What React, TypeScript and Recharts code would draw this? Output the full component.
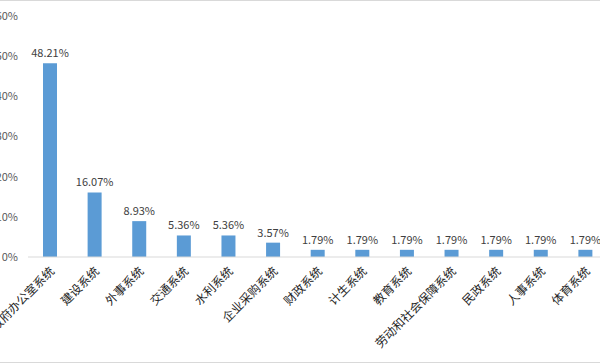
import React from 'react';
import { BarChart, Bar, XAxis, YAxis, LabelList } from 'recharts';

const categories = ['政府办公室系统', '建设系统', '外事系统', '交通系统', '水利系统', '企业采购系统', '财政系统', '计生系统', '教育系统', '劳动和社会保障系统', '民政系统', '人事系统', '体育系统'];
const shares = [48.21, 16.07, 8.93, 5.36, 5.36, 3.57, 1.79, 1.79, 1.79, 1.79, 1.79, 1.79, 1.79];
const yTicks = [0, 10, 20, 30, 40, 50, 60];

const data = categories.map((name, i) => ({ name, value: shares[i] }));

const FONT = '"Noto Sans CJK SC", "Noto Sans", sans-serif';

const XTick = (props: any) => {
  const { x, y, payload } = props;
  const tx = x + 5;
  const ty = y + 15;
  return (
    <text
      x={tx}
      y={ty}
      transform={`rotate(-45 ${tx} ${ty})`}
      textAnchor="end"
      fontSize={12}
      fontFamily={FONT}
      fill="#262626"
    >
      {payload.value}
    </text>
  );
};

export default function App() {
  return (
    <div style={{ position: 'absolute', left: 0, top: 0, width: 600, height: 364, overflow: 'hidden', background: '#fff' }}>
      <div style={{ position: 'absolute', left: 0, top: 0, width: 600, height: 1, background: '#d9d9d9' }} />
      <div style={{ position: 'absolute', left: 0, top: 362, width: 600, height: 1, background: '#d9d9d9' }} />
      <div style={{ position: 'absolute', left: -40, top: 0 }}>
        <BarChart
          width={680}
          height={364}
          data={data}
          margin={{ top: 16, right: 32, left: 0, bottom: 0 }}
        >
          <XAxis
            dataKey="name"
            interval={0}
            tickLine={false}
            tickSize={0}
            tickMargin={0}
            axisLine={{ stroke: '#d9d9d9' }}
            tick={<XTick />}
            height={107}
          />
          <YAxis
            width={68}
            domain={[0, 60]}
            ticks={yTicks}
            axisLine={false}
            tickLine={false}
            tickSize={6}
            tickMargin={4}
            tickFormatter={(v: number) => `${v}%`}
            tick={{ fontSize: 11, fill: '#595959', fontFamily: FONT }}
          />
          <Bar dataKey="value" fill="#5b9bd5" barSize={14} isAnimationActive={false}>
            <LabelList
              dataKey="value"
              position="top"
              offset={6}
              formatter={(v: number) => `${v.toFixed(2)}%`}
              style={{ fontSize: 11, fill: '#404040', fontFamily: FONT }}
            />
          </Bar>
        </BarChart>
      </div>
    </div>
  );
}
